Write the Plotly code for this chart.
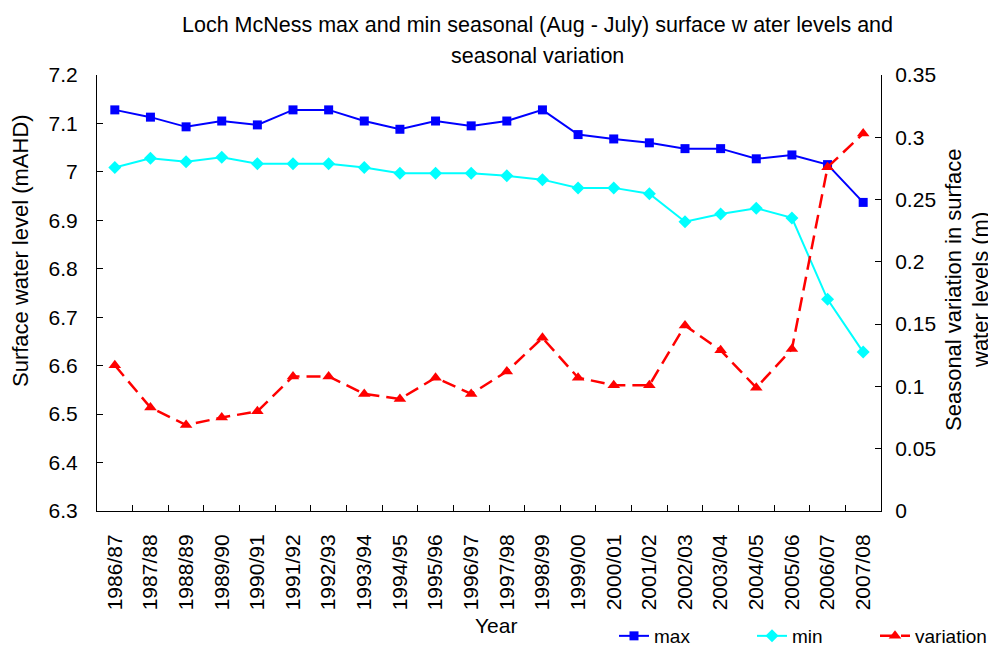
import plotly.graph_objects as go

years = ["1986/87", "1987/88", "1988/89", "1989/90", "1990/91", "1991/92", "1992/93",
         "1993/94", "1994/95", "1995/96", "1996/97", "1997/98", "1998/99", "1999/00",
         "2000/01", "2001/02", "2002/03", "2003/04", "2004/05", "2005/06", "2006/07",
         "2007/08"]
max_level = [7.128, 7.113, 7.093, 7.105, 7.097, 7.128, 7.128, 7.105, 7.088, 7.105, 7.095,
             7.105, 7.128, 7.077, 7.068, 7.060, 7.048, 7.048, 7.027, 7.035, 7.015, 6.937]
min_level = [7.009, 7.028, 7.021, 7.030, 7.017, 7.017, 7.017, 7.009, 6.997, 6.997, 6.997,
             6.992, 6.984, 6.967, 6.967, 6.955, 6.897, 6.913, 6.925, 6.905, 6.737, 6.628]
variation = [0.117, 0.083, 0.069, 0.075, 0.080, 0.108, 0.108, 0.094, 0.090, 0.107, 0.094,
             0.112, 0.139, 0.107, 0.101, 0.101, 0.149, 0.129, 0.099, 0.130, 0.276, 0.303]

FONT = "Liberation Sans, Arial, sans-serif"
# page offset of the figure (default body margin of the html page)
OFF = 8
# plot area in page pixels
L, R, T, B = 97, 881, 75, 511
W, H = R - L, B - T
FIG_W, FIG_H = 996 - OFF, 646 - OFF


def px(x):
    return (x - L) / W


def py(y):
    return (B - y) / H


fig = go.Figure()
fig.add_trace(go.Scatter(x=years, y=max_level, name="max", mode="lines+markers",
                         legend="legend",
                         line=dict(color="#0000FF", width=2),
                         marker=dict(symbol="square", size=9, color="#0000FF")))
fig.add_trace(go.Scatter(x=years, y=min_level, name="min", mode="lines+markers",
                         legend="legend2",
                         line=dict(color="#00FFFF", width=2),
                         marker=dict(symbol="diamond", size=10, color="#00FFFF")))
fig.add_trace(go.Scatter(x=years, y=variation, name="variation", mode="lines+markers",
                         yaxis="y2", legend="legend3",
                         line=dict(color="#FF0000", width=2.5, dash="14px,7px"),
                         marker=dict(symbol="triangle-up", size=11, color="#FF0000")))

ann_font = dict(family=FONT, size=21, color="black")
head_font = dict(family=FONT, size=21.5, color="black")
title_font = dict(family=FONT, size=22, color="black")


def leg(x_page):
    return dict(orientation="h", x=px(x_page), xanchor="left", y=py(636),
                yanchor="middle", font=dict(size=19), bgcolor="rgba(0,0,0,0)",
                borderwidth=0)


fig.update_layout(
    width=FIG_W, height=FIG_H,
    margin=dict(l=L - OFF, r=996 - R, t=T - OFF, b=646 - B, autoexpand=False),
    paper_bgcolor="white", plot_bgcolor="white",
    font=dict(family=FONT, size=21, color="black"),
    showlegend=True,
    legend=leg(614),
    legend2=leg(752),
    legend3=leg(875),
    xaxis=dict(type="category", range=[-0.5, 21.5], showline=True, linecolor="black",
               linewidth=1, ticks="inside", ticklen=6, tickcolor="black",
               tickson="boundaries", tickangle=-90, showgrid=False, zeroline=False,
               tickfont=dict(size=21), ticklabelstandoff=14, automargin=False),
    yaxis=dict(range=[6.3, 7.2], dtick=0.1, showline=True, linecolor="black", linewidth=1,
               ticks="inside", ticklen=6, tickcolor="black", showgrid=False,
               zeroline=False, tickfont=dict(size=21), ticklabelstandoff=14,
               automargin=False),
    yaxis2=dict(range=[0, 0.35], dtick=0.05, overlaying="y", side="right",
                showline=True, linecolor="black", linewidth=1, ticks="inside",
                ticklen=6, tickcolor="black", showgrid=False, zeroline=False,
                tickfont=dict(size=21), ticklabelstandoff=9, automargin=False),
    annotations=[
        dict(text="Loch McNess max and min seasonal (Aug - July) surface w ater levels and",
             xref="paper", yref="paper", x=px(537), y=py(25),
             xanchor="center", yanchor="middle", showarrow=False, font=head_font),
        dict(text="seasonal variation",
             xref="paper", yref="paper", x=px(537), y=py(56),
             xanchor="center", yanchor="middle", showarrow=False, font=head_font),
        dict(text="Surface water level (mAHD)", textangle=-90,
             xref="paper", yref="paper", x=px(20), y=py(251),
             xanchor="center", yanchor="middle", showarrow=False, font=title_font),
        dict(text="Seasonal variation in surface", textangle=-90,
             xref="paper", yref="paper", x=px(953), y=py(290),
             xanchor="center", yanchor="middle", showarrow=False, font=title_font),
        dict(text="water levels (m)", textangle=-90,
             xref="paper", yref="paper", x=px(980), y=py(290),
             xanchor="center", yanchor="middle", showarrow=False, font=title_font),
        dict(text="Year",
             xref="paper", yref="paper", x=px(496), y=py(625),
             xanchor="center", yanchor="middle", showarrow=False, font=ann_font),
    ],
)

fig.write_html("out.html")
